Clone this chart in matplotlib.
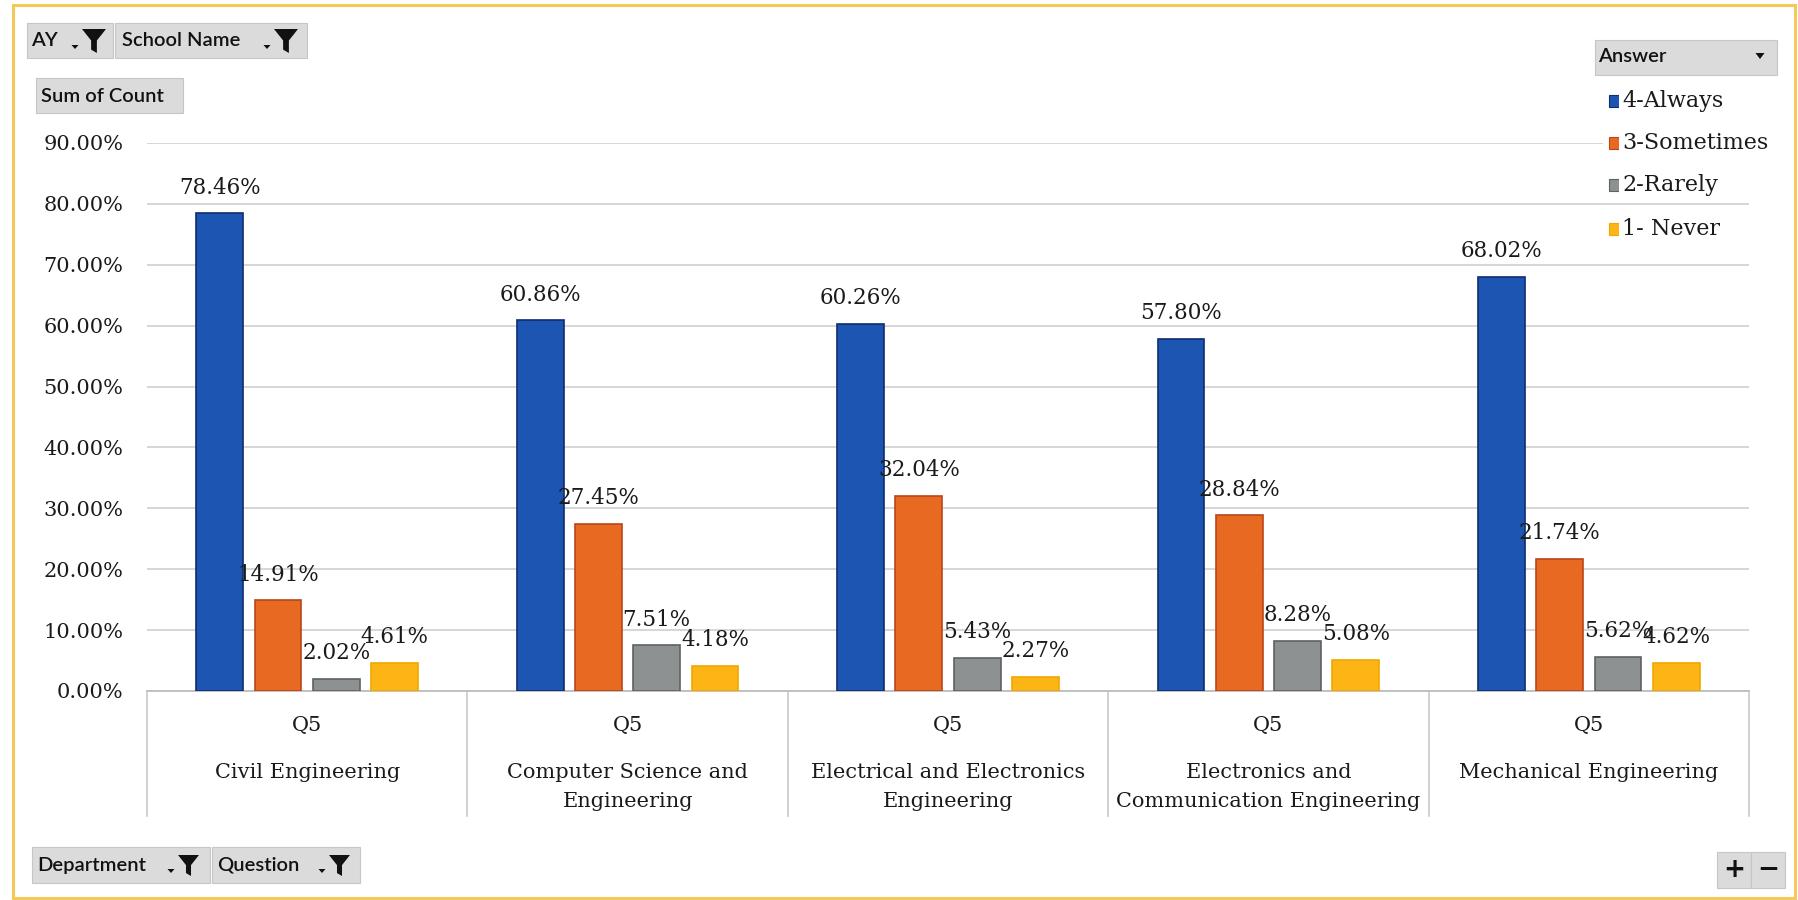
import matplotlib
matplotlib.use("Agg")
import matplotlib.pyplot as plt
from matplotlib.patches import Rectangle, Polygon
from matplotlib.lines import Line2D
from matplotlib.transforms import blended_transform_factory

# ---------------- data ----------------
departments = [
    "Civil Engineering",
    "Computer Science and\nEngineering",
    "Electrical and Electronics\nEngineering",
    "Electronics and\nCommunication Engineering",
    "Mechanical Engineering",
]
question = "Q5"
series_names = ["4-Always", "3-Sometimes", "2-Rarely", "1- Never"]
always = [78.46, 60.86, 60.26, 57.80, 68.02]
sometimes = [14.91, 27.45, 32.04, 28.84, 21.74]
rarely = [2.02, 7.51, 5.43, 8.28, 5.62]
never = [4.61, 4.18, 2.27, 5.08, 4.62]
series_values = [always, sometimes, rarely, never]
y_ticks = [0, 10, 20, 30, 40, 50, 60, 70, 80, 90]

colors = ["#1D55B3", "#E86A22", "#8E9191", "#FDB515"]
edges = ["#0E2E6E", "#B9461A", "#5E6262", "#F0A800"]

SERIF = "DejaVu Serif"
SANS = "Lato"

W, H = 1798, 900
fig = plt.figure(figsize=(W / 100, H / 100), dpi=100)
fig.patch.set_facecolor("white")


def fx(x):
    return x / W


def fy(y):
    return 1 - y / H


# outer gold frame
fig.patches.append(Rectangle((fx(13), fy(898)), fx(1795) - fx(13), fy(5) - fy(898),
                             transform=fig.transFigure, fill=False,
                             edgecolor="#F5C85A", lw=2.2))

# ---------------- axes ----------------
left, right, top, bottom = 147, 1749, 143, 691
ax = fig.add_axes([fx(left), fy(bottom), fx(right) - fx(left), fy(top) - fy(bottom)])
ax.set_xlim(-0.5, len(departments) - 0.5)
ax.set_ylim(0, 90)
ax.set_yticks(y_ticks)
ax.set_yticklabels([f"{t:.2f}%" for t in y_ticks], fontsize=15, family=SERIF, color="#1A1A1A")
ax.tick_params(axis="y", length=0, pad=17)
ax.set_xticks([])
for s in ["top", "right", "left"]:
    ax.spines[s].set_visible(False)
ax.spines["bottom"].set_color("#BDBDBD")
ax.spines["bottom"].set_linewidth(1.3)
ax.yaxis.grid(True, color="#D3D3D3", lw=1.3)
ax.set_axisbelow(True)

slot = 0.182
bw = 0.146
for i, (vals, c, e) in enumerate(zip(series_values, colors, edges)):
    xs = [k + (i - 1.5) * slot for k in range(len(departments))]
    ax.bar(xs, vals, width=bw, color=c, edgecolor=e, lw=1.2, zorder=3)
    for x, v in zip(xs, vals):
        ax.annotate(f"{v:.2f}%", (x, v), xytext=(0, 18.5), textcoords="offset points",
                    ha="center", va="center", fontsize=15.5, family=SERIF,
                    color="#1A1A1A", zorder=5)

# category axis (multi-level)
bt = blended_transform_factory(ax.transData, fig.transFigure)
for k in range(len(departments) + 1):
    ax.add_line(Line2D([k - 0.5, k - 0.5], [fy(691), fy(816)], transform=bt,
                       color="#C8C8C8", lw=1.2, clip_on=False))
for k, d in enumerate(departments):
    ax.text(k, fy(725), question, transform=bt, ha="center", va="center",
            fontsize=15, family=SERIF, color="#1A1A1A")
    ax.text(k, fy(763), d, transform=bt, ha="center", va="top",
            fontsize=15, family=SERIF, color="#1A1A1A", linespacing=1.65)


# ---------------- pivot buttons ----------------
def box(x0, y0, x1, y1):
    fig.patches.append(Rectangle((fx(x0), fy(y1)), fx(x1) - fx(x0), fy(y0) - fy(y1),
                                 transform=fig.transFigure, facecolor="#DBDBDB",
                                 edgecolor="#C6C6C6", lw=0.8))


def dropdown(cx, cy, w=8, h=5):
    pts = [(fx(cx - w / 2), fy(cy - h / 2)), (fx(cx + w / 2), fy(cy - h / 2)), (fx(cx), fy(cy + h / 2))]
    fig.patches.append(Polygon(pts, closed=True, transform=fig.transFigure,
                               facecolor="#111111", edgecolor="none"))


def funnel(x0, y0, w=22, h=22):
    p = [(0, 0), (1, 0), (0.62, 0.48), (0.62, 1.0), (0.38, 0.86), (0.38, 0.48)]
    pts = [(fx(x0 + a * w), fy(y0 + b * h)) for a, b in p]
    fig.patches.append(Polygon(pts, closed=True, transform=fig.transFigure,
                               facecolor="#111111", edgecolor="none"))


def label(x, y, s, size=14.5):
    fig.text(fx(x), fy(y), s, ha="left", va="center", fontsize=size,
             family=SANS, fontweight="semibold", color="#111111")


# AY / School Name
box(27, 23, 113, 58)
label(31, 41, "AY")
dropdown(75, 47, 7, 4)
funnel(82, 29, 24, 24)
box(115, 23, 307, 58)
label(122, 41, "School Name")
dropdown(267, 47, 7, 4)
funnel(274, 29, 24, 24)

# Sum of Count
box(36, 78, 183, 113)
label(41, 96, "Sum of Count")

# Department / Question
box(32, 847, 210, 883)
label(37, 865, "Department")
dropdown(171, 871, 7, 4)
funnel(178, 855, 21, 21)
box(212, 847, 360, 883)
label(217, 865, "Question")
dropdown(322, 871, 7, 4)
funnel(329, 855, 21, 21)

# Answer (legend header)
box(1595, 40, 1777, 75)
label(1598, 57, "Answer")
dropdown(1760, 56, 9, 6)

# +/- buttons
box(1717, 852, 1751, 888)
box(1751, 852, 1785, 888)
fig.text(fx(1734), fy(870), "+", ha="center", va="center", fontsize=19,
         fontweight="bold", family="DejaVu Sans", color="#111111")
fig.text(fx(1768), fy(870), "\u2212", ha="center", va="center", fontsize=19,
         fontweight="bold", family="DejaVu Sans", color="#111111")

# ---------------- legend ----------------
legend_y = [101, 143, 185, 229]
for name, c, e, y in zip(series_names, colors, edges, legend_y):
    fig.patches.append(Rectangle((fx(1603), fy(y + 8)), fx(1624) - fx(1603), fy(y - 8) - fy(y + 8),
                                 transform=fig.transFigure, facecolor="white",
                                 edgecolor="none", zorder=2))
    fig.patches.append(Rectangle((fx(1609), fy(y + 6)), fx(1622) - fx(1609), fy(y - 6) - fy(y + 6),
                                 transform=fig.transFigure, facecolor=c,
                                 edgecolor=e, lw=0.8, zorder=3))
    fig.text(fx(1622), fy(y), name, ha="left", va="center", fontsize=16,
             family=SERIF, color="#1A1A1A", zorder=4,
             bbox=dict(boxstyle="square,pad=0.12", facecolor="white", edgecolor="none"))

fig.savefig("out.png", dpi=100)
